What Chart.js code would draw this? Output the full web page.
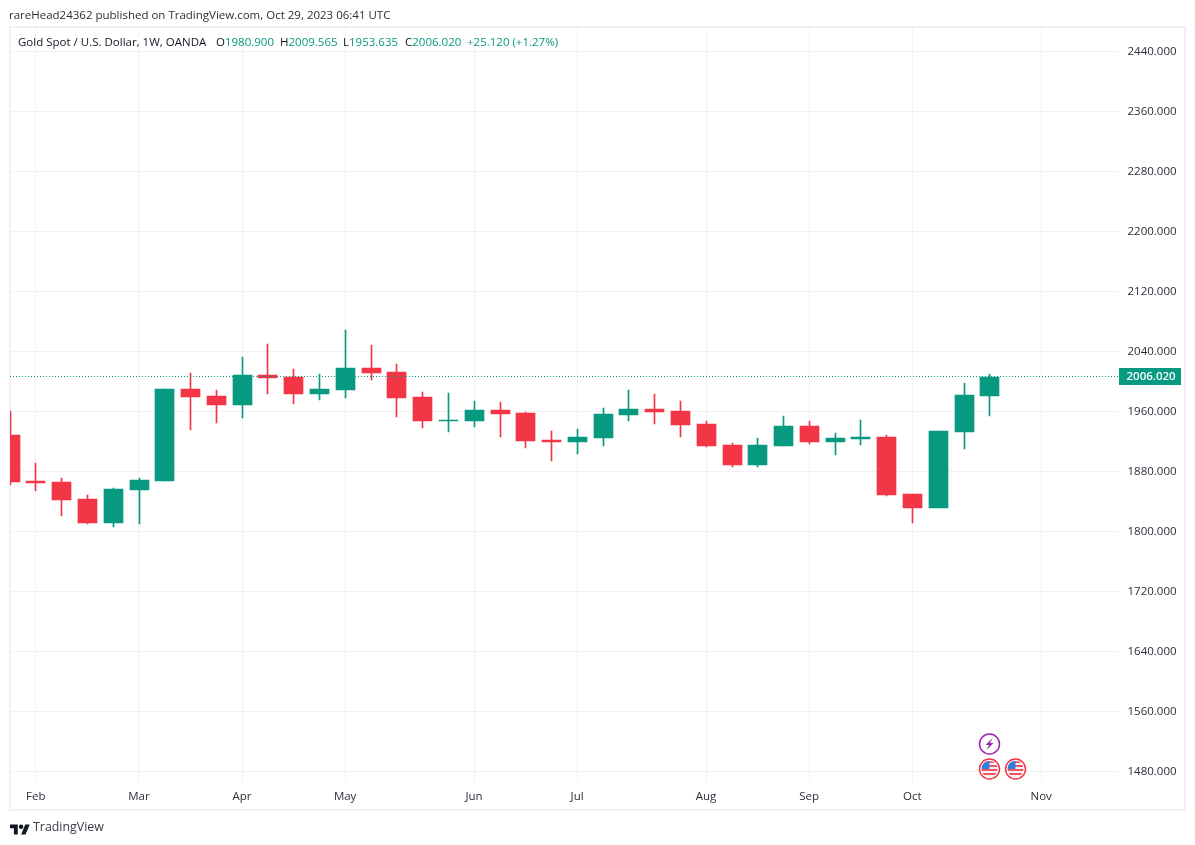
<!DOCTYPE html>
<html>
<head>
<meta charset="utf-8">
<script src="https://cdn.jsdelivr.net/npm/chart.js@4"></script>
<style>
html,body{margin:0;padding:0;background:#fff;width:1195px;height:845px;overflow:hidden}
body{position:relative;font-family:"Open Sans",sans-serif;color:#131722}
#wrap{position:absolute;left:0;top:0;width:1195px;height:845px}
#frame{position:absolute;left:9px;top:26px;width:1173px;height:781px;border:2px solid #f0f1f6;pointer-events:none}
.t{position:absolute;white-space:nowrap;font-size:11.5px;line-height:16px}
.g{color:#089981}
#logo{position:absolute;left:10px;top:822px;width:20px;height:16px}
</style>
</head>
<body>
<div id="frame"></div>
<div id="wrap"><canvas id="c" width="1195" height="845"></canvas></div>
<div class="t" style="left:9px;top:7px;color:#2a2e39">rareHead24362 published on TradingView.com, Oct 29, 2023 06:41 UTC</div>
<div class="t" style="left:18px;top:34px">Gold Spot / U.S. Dollar, 1W, OANDA</div>
<div class="t" style="left:216px;top:34px">O<span class="g">1980.900</span></div>
<div class="t" style="left:280px;top:34px">H<span class="g">2009.565</span></div>
<div class="t" style="left:343px;top:34px">L<span class="g">1953.635</span></div>
<div class="t" style="left:405px;top:34px">C<span class="g">2006.020</span></div>
<div class="t g" style="left:467px;top:34px">+25.120 (+1.27%)</div>
<svg id="logo" viewBox="0 0 36 28"><path fill="#131722" d="M14 22H7V11H0V4h14v18ZM28 22h-8l7.5-18h8L28 22Z"/><circle fill="#131722" cx="20" cy="8" r="4"/></svg>
<div class="t" style="left:33px;top:819px;font-size:12.4px;color:#363a45">TradingView</div>
<script>
const categories = ['', 'Feb', '', '', '', 'Mar', '', '', '', 'Apr', '', '', '', 'May', '', '', '', '', 'Jun', '', '', '', 'Jul', '', '', '', '', 'Aug', '', '', '', 'Sep', '', '', '', 'Oct', '', '', '', '', 'Nov', '', '', ''];
const opens  = [1928.67,1867.33,1866,1843.33,1811.33,1855.33,1867.33,1990,1980.67,1968.67,2008.67,2006,1983.33,1988.67,2018,2012.67,1979.33,1947.33,1947.33,1962,1958,1922,1919.33,1924.67,1955.33,1963.33,1960.67,1943.33,1915.33,1888.67,1914,1940.67,1919.33,1923.33,1926,1850,1831.33,1932.67,1980.9];
const closes = [1866,1864.67,1842,1811.33,1856.67,1868.67,1990,1979.33,1968.67,2008.67,2004.67,1983.33,1990,2018,2011.33,1978,1947.33,1948.67,1962,1956.67,1920.67,1919.33,1926,1956.67,1963.33,1959.33,1942,1914,1888.67,1915.33,1940.67,1919.33,1924.67,1926,1848.67,1831.33,1934,1982,2006.02];
const highs  = [1960.67,1891.33,1871.33,1848.67,1858,1871.33,1990,2011.33,1988.67,2032.67,2050,2016.67,2010,2068.67,2048.67,2023.33,1986,1984.67,1974,1972.67,1959.33,1934,1936.67,1964.67,1988.67,1983.33,1974,1947.33,1918,1924.67,1954,1947.33,1931.33,1948.67,1928.67,1850,1934,1998,2009.565];
const lows   = [1862,1854,1820.67,1810,1806,1810,1867.33,1935.33,1944.67,1951.33,1983.33,1970,1975.33,1978,2002,1952.67,1938,1932.67,1939.33,1926,1911.33,1894,1903.33,1914,1947.33,1943.33,1926,1912.67,1886,1886,1914,1916.67,1902,1915.33,1847.33,1811.33,1831.33,1910,1953.635];
const priceTicks = [1480,1560,1640,1720,1800,1880,1960,2040,2120,2200,2280,2360,2440];
const lastPrice = 2006.02;
const UP = '#089981', DOWN = '#F23645', GRID = '#f2f2f4', AXIS_TEXT = '#2a2e39';
const FONT = 'Open Sans';

const colorFor = i => closes[i] >= opens[i] ? UP : DOWN;

const snapPlugin = {
  id: 'snap',
  beforeDatasetsDraw(chart) {
    chart.data.datasets.forEach((d, n) => {
      chart.getDatasetMeta(n).data.forEach(el => {
        el.x = Math.floor(el.x + 0.2) + 0.5;
        el.y = Math.round(el.y);
        el.base = Math.round(el.base);
      });
    });
  }
};

const overlayPlugin = {
  id: 'overlay',
  afterDatasetsDraw(chart) {
    const {ctx, chartArea: a, scales: {x, y}} = chart;
    const py = Math.round(y.getPixelForValue(lastPrice)) - 0.5;
    ctx.save();
    ctx.strokeStyle = UP; ctx.lineWidth = 1; ctx.setLineDash([1, 2]);
    ctx.beginPath(); ctx.moveTo(a.left, py); ctx.lineTo(a.right, py); ctx.stroke();
    ctx.setLineDash([]);
    ctx.fillStyle = UP;
    ctx.fillRect(a.right + 0.5, py - 8.5, 62, 17);
    ctx.fillStyle = '#fff';
    ctx.font = '600 11.5px "' + FONT + '"';
    ctx.textAlign = 'left'; ctx.textBaseline = 'middle';
    ctx.fillText(lastPrice.toFixed(3), a.right + 8, py + 0.5);

    const flag = cx => {
      const cy = 769;
      ctx.save();
      ctx.beginPath(); ctx.arc(cx, cy, 10, 0, Math.PI * 2); ctx.fillStyle = '#fff'; ctx.fill();
      ctx.beginPath(); ctx.arc(cx, cy, 8, 0, Math.PI * 2); ctx.clip();
      ctx.fillStyle = '#f0f3fa'; ctx.fillRect(cx - 9, cy - 9, 18, 18);
      ctx.fillStyle = '#F7525F';
      [-8, -4, 0, 4].forEach(o => ctx.fillRect(cx - 9, cy + o, 18, 2));
      ctx.fillStyle = '#2f7fe0'; ctx.fillRect(cx - 9, cy - 9, 9, 9);
      ctx.restore();
      ctx.beginPath(); ctx.arc(cx, cy, 10, 0, Math.PI * 2);
      ctx.strokeStyle = '#F23645'; ctx.lineWidth = 1.5; ctx.stroke();
    };
    const x1 = Math.floor(x.getPixelForValue(38) + 0.2) + 0.5;
    const x2 = Math.floor(x.getPixelForValue(39) + 0.2) + 0.5;
    flag(x1); flag(x2);
    ctx.beginPath(); ctx.arc(x1, 744, 10, 0, Math.PI * 2);
    ctx.fillStyle = '#fff'; ctx.fill();
    ctx.strokeStyle = '#9C27B0'; ctx.lineWidth = 1.5; ctx.stroke();
    ctx.fillStyle = '#9C27B0';
    ctx.beginPath();
    ctx.moveTo(x1 + 3, 738); ctx.lineTo(x1 - 4, 745); ctx.lineTo(x1 - 0.5, 745);
    ctx.lineTo(x1 - 3, 750); ctx.lineTo(x1 + 4, 743); ctx.lineTo(x1 + 0.5, 743);
    ctx.closePath(); ctx.fill();
    ctx.restore();
  }
};

new Chart(document.getElementById('c'), {
  type: 'bar',
  data: {
    labels: categories,
    datasets: [
      {
        label: 'Wick',
        data: highs.map((h, i) => [lows[i], h]),
        backgroundColor: highs.map((_, i) => colorFor(i)),
        barThickness: 1, borderSkipped: false, grouped: false, order: 2
      },
      {
        label: 'Body',
        data: opens.map((o, i) => [o, closes[i]]),
        backgroundColor: opens.map((_, i) => colorFor(i)),
        barThickness: 19, borderSkipped: false, grouped: false, order: 1
      }
    ]
  },
  options: {
    responsive: false,
    animation: false,
    events: [],
    layout: {padding: {left: 10, top: 28, right: 10, bottom: 35}},
    plugins: {legend: {display: false}, tooltip: {enabled: false}},
    scales: {
      x: {
        type: 'category',
        offset: false,
        grid: {
          offset: false,
          color: c => categories[c.index] ? GRID : 'rgba(0,0,0,0)',
          drawTicks: false, lineWidth: 1
        },
        border: {display: false},
        ticks: {
          autoSkip: false, maxRotation: 0, minRotation: 0, padding: 8,
          color: AXIS_TEXT, font: {family: FONT, size: 11.5}
        },
        afterFit: s => { s.height = 28; }
      },
      y: {
        position: 'right',
        min: 1466,
        max: 2471.33,
        afterBuildTicks: s => { s.ticks = priceTicks.map(v => ({value: v})); },
        grid: {color: GRID, drawTicks: false, lineWidth: 1},
        border: {display: false},
        ticks: {
          padding: 9, color: AXIS_TEXT, crossAlign: 'near',
          font: {family: FONT, size: 11.5},
          callback: v => Number(v).toFixed(3)
        },
        afterFit: s => { s.width = 66.5; }
      }
    }
  },
  plugins: [snapPlugin, overlayPlugin]
});
</script>
</body>
</html>
